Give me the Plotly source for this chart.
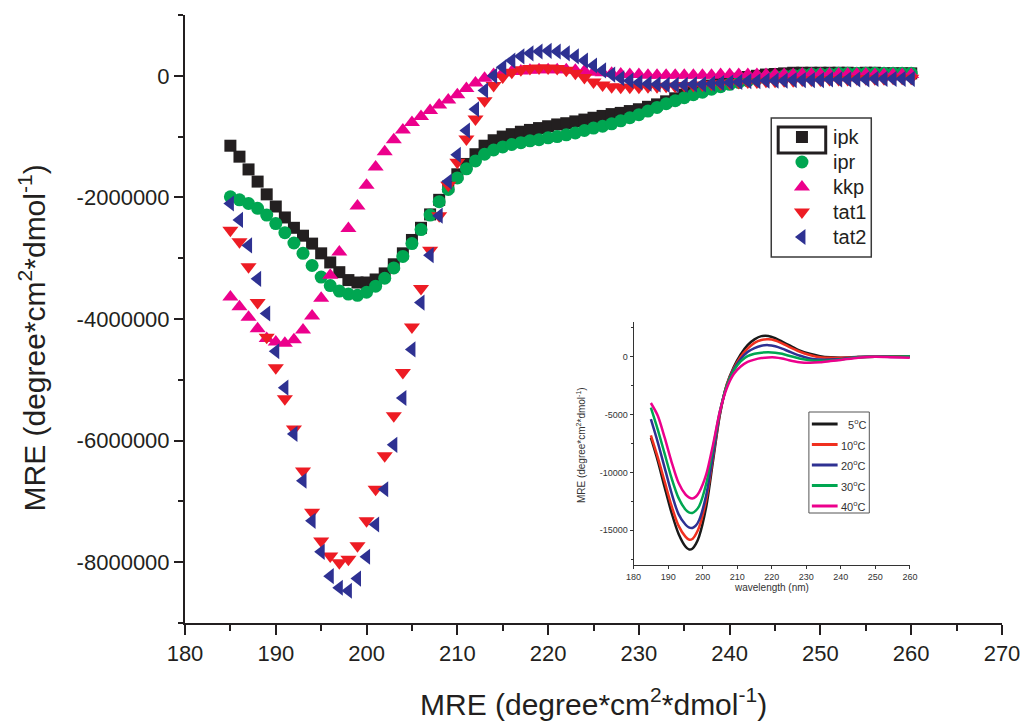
import plotly.graph_objects as go

# ---------------------------------------------------------------------------
# Main panel: MRE of five peptides, 185-260 nm (one reading per nm)
# ---------------------------------------------------------------------------
wavelength = list(range(185, 261))

ipk = [-1.15e6, -1.33e6, -1.54e6, -1.74e6, -1.95e6, -2.15e6, -2.33e6, -2.50e6, -2.63e6, -2.76e6,
       -2.92e6, -3.07e6, -3.23e6, -3.36e6, -3.40e6, -3.40e6, -3.35e6, -3.25e6, -3.10e6, -2.92e6,
       -2.70e6, -2.50e6, -2.28e6, -2.04e6, -1.82e6, -1.62e6, -1.45e6, -1.29e6, -1.15e6, -1.06e6,
       -1.00e6, -0.96e6, -0.92e6, -0.89e6, -0.86e6, -0.83e6, -0.80e6, -0.78e6, -0.75e6, -0.72e6,
       -0.69e6, -0.66e6, -0.63e6, -0.61e6, -0.58e6, -0.55e6, -0.51e6, -0.47e6, -0.42e6, -0.37e6,
       -0.31e6, -0.26e6, -0.21e6, -0.16e6, -0.12e6, -0.08e6, -0.05e6, -0.02e6, 0.00e6, 0.02e6,
       0.03e6, 0.04e6, 0.05e6, 0.05e6, 0.05e6, 0.05e6, 0.05e6, 0.05e6, 0.05e6, 0.04e6,
       0.05e6, 0.05e6, 0.04e6, 0.04e6, 0.04e6, 0.04e6]

ipr = [-1.99e6, -2.04e6, -2.10e6, -2.18e6, -2.29e6, -2.43e6, -2.58e6, -2.75e6, -2.92e6, -3.12e6,
       -3.31e6, -3.45e6, -3.54e6, -3.59e6, -3.61e6, -3.56e6, -3.46e6, -3.33e6, -3.16e6, -2.97e6,
       -2.76e6, -2.53e6, -2.29e6, -2.07e6, -1.87e6, -1.68e6, -1.53e6, -1.40e6, -1.29e6, -1.22e6,
       -1.17e6, -1.13e6, -1.10e6, -1.07e6, -1.05e6, -1.02e6, -1.00e6, -0.97e6, -0.94e6, -0.90e6,
       -0.86e6, -0.83e6, -0.79e6, -0.74e6, -0.69e6, -0.64e6, -0.58e6, -0.52e6, -0.46e6, -0.41e6,
       -0.36e6, -0.31e6, -0.27e6, -0.22e6, -0.18e6, -0.14e6, -0.11e6, -0.08e6, -0.05e6, -0.03e6,
       -0.01e6, 0.00e6, 0.01e6, 0.02e6, 0.03e6, 0.03e6, 0.03e6, 0.04e6, 0.04e6, 0.04e6,
       0.04e6, 0.04e6, 0.04e6, 0.04e6, 0.04e6, 0.04e6]

kkp = [-3.64e6, -3.80e6, -3.97e6, -4.16e6, -4.32e6, -4.38e6, -4.40e6, -4.34e6, -4.18e6, -3.95e6,
       -3.66e6, -3.28e6, -2.90e6, -2.51e6, -2.14e6, -1.80e6, -1.50e6, -1.25e6, -1.05e6, -0.89e6,
       -0.77e6, -0.67e6, -0.57e6, -0.48e6, -0.40e6, -0.31e6, -0.21e6, -0.12e6, -0.04e6, 0.02e6,
       0.05e6, 0.07e6, 0.08e6, 0.09e6, 0.10e6, 0.10e6, 0.10e6, 0.10e6, 0.09e6, 0.08e6,
       0.06e6, 0.05e6, 0.04e6, 0.03e6, 0.02e6, 0.02e6, 0.01e6, 0.01e6, 0.01e6, 0.01e6,
       0.01e6, 0.01e6, 0.01e6, 0.01e6, 0.02e6, 0.02e6, 0.02e6, 0.02e6, 0.02e6, 0.02e6,
       0.02e6, 0.02e6, 0.02e6, 0.03e6, 0.03e6, 0.03e6, 0.03e6, 0.03e6, 0.03e6, 0.03e6,
       0.03e6, 0.02e6, 0.02e6, 0.02e6, 0.02e6, 0.02e6]

tat1 = [-2.54e6, -2.73e6, -3.14e6, -3.73e6, -4.30e6, -4.80e6, -5.31e6, -5.81e6, -6.50e6, -7.18e6,
        -7.65e6, -7.90e6, -8.01e6, -7.95e6, -7.73e6, -7.32e6, -6.80e6, -6.25e6, -5.59e6, -4.88e6,
        -4.13e6, -3.50e6, -2.87e6, -2.30e6, -1.80e6, -1.42e6, -1.04e6, -0.71e6, -0.41e6, -0.16e6,
        -0.02e6, 0.06e6, 0.10e6, 0.12e6, 0.13e6, 0.13e6, 0.12e6, 0.09e6, 0.04e6, -0.03e6,
        -0.10e6, -0.15e6, -0.18e6, -0.19e6, -0.19e6, -0.19e6, -0.18e6, -0.18e6, -0.17e6, -0.17e6,
        -0.16e6, -0.16e6, -0.15e6, -0.14e6, -0.13e6, -0.12e6, -0.11e6, -0.10e6, -0.10e6, -0.09e6,
        -0.09e6, -0.08e6, -0.08e6, -0.07e6, -0.07e6, -0.07e6, -0.06e6, -0.06e6, -0.06e6, -0.05e6,
        -0.05e6, -0.05e6, -0.05e6, -0.04e6, -0.04e6, -0.04e6]

tat2 = [-2.10e6, -2.37e6, -2.79e6, -3.34e6, -3.91e6, -4.53e6, -5.13e6, -5.89e6, -6.66e6, -7.32e6,
        -7.83e6, -8.23e6, -8.42e6, -8.47e6, -8.27e6, -7.91e6, -7.38e6, -6.80e6, -6.07e6, -5.30e6,
        -4.50e6, -3.73e6, -2.95e6, -2.30e6, -1.74e6, -1.30e6, -0.90e6, -0.55e6, -0.24e6, 0.00e6,
        0.14e6, 0.25e6, 0.32e6, 0.37e6, 0.40e6, 0.41e6, 0.40e6, 0.37e6, 0.32e6, 0.25e6,
        0.17e6, 0.09e6, 0.02e6, -0.04e6, -0.08e6, -0.11e6, -0.13e6, -0.14e6, -0.15e6, -0.15e6,
        -0.15e6, -0.14e6, -0.14e6, -0.13e6, -0.12e6, -0.11e6, -0.10e6, -0.09e6, -0.09e6, -0.08e6,
        -0.08e6, -0.08e6, -0.07e6, -0.07e6, -0.07e6, -0.07e6, -0.06e6, -0.06e6, -0.06e6, -0.06e6,
        -0.06e6, -0.05e6, -0.05e6, -0.05e6, -0.05e6, -0.05e6]

series_names = ["ipk", "ipr", "kkp", "tat1", "tat2"]

y_tick_values = [0, -2000000, -4000000, -6000000, -8000000]
y_tick_labels = ["0", "-2000000", "-4000000", "-6000000", "-8000000"]

# ---------------------------------------------------------------------------
# Inset: temperature series, 185-260 nm
# ---------------------------------------------------------------------------
inset_wavelength = [185, 187, 189, 191, 193, 195, 196, 197, 198, 199, 201, 203, 205, 207, 209, 211,
                    213, 215, 217, 219, 221, 223, 225, 228, 231, 234, 237, 240, 245, 250, 255, 260]

t5 = [-7000, -9000, -11300, -13500, -15300, -16400, -16650, -16600, -16200, -15500, -13000, -9000,
      -5000, -2400, -900, 200, 1000, 1500, 1780, 1800, 1600, 1300, 1000, 550, 250, 50, -50, -80,
      -30, 0, 20, 30]
t10 = [-6800, -8700, -10800, -12900, -14600, -15550, -15800, -15750, -15350, -14700, -12400, -8700,
       -4900, -2400, -1000, 0, 700, 1200, 1450, 1500, 1400, 1150, 850, 450, 150, -50, -100, -100,
       -30, 0, 0, 30]
t20 = [-5400, -7400, -9600, -11800, -13600, -14500, -14750, -14800, -14600, -14100, -12000, -8500,
       -4800, -2500, -1100, -200, 400, 750, 950, 1000, 900, 700, 450, 100, -150, -250, -250, -200,
       -30, 0, -20, 0]
t30 = [-4400, -6300, -8400, -10500, -12200, -13200, -13450, -13500, -13300, -12900, -11000, -7900,
       -4700, -2500, -1200, -400, 50, 250, 350, 380, 350, 250, 80, -150, -300, -350, -320, -250,
       -50, 0, 0, 50]
t40 = [-4000, -5100, -7000, -9100, -10900, -11900, -12150, -12250, -12100, -11700, -10200, -7600,
       -4700, -2700, -1500, -850, -450, -250, -120, -60, -60, -150, -300, -470, -520, -480, -380,
       -280, -80, 0, -50, -100]

inset_labels = ["5<sup>o</sup>C", "10<sup>o</sup>C", "20<sup>o</sup>C", "30<sup>o</sup>C", "40<sup>o</sup>C"]
inset_x_ticks = [180, 190, 200, 210, 220, 230, 240, 250, 260]
inset_y_ticks = [-15000, -10000, -5000, 0]
inset_y_labels = ["-15000", "-10000", "-5000", "0"]

# ---------------------------------------------------------------------------
# Styling
# ---------------------------------------------------------------------------
W, H = 1032, 723
PL, PR, PT, PB = 185, 1010, 15, 623  # plot-area edges in pixels
FONT = "Liberation Sans, Arial, Helvetica, sans-serif"
INK = "#231f20"


def fx(px):
    return (px - PL) / (PR - PL)


def fy(py):
    return (PB - py) / (PB - PT)


marker_styles = {
    "ipk": dict(symbol="square", color="#231f20", size=12),
    "ipr": dict(symbol="circle", color="#00a651", size=13),
    "kkp": dict(symbol="triangle-up", color="#ec008c", size=14),
    "tat1": dict(symbol="triangle-down", color="#ed1c24", size=14),
    "tat2": dict(symbol="triangle-left", color="#2e3192", size=14),
}
inset_colors = ["#1a1a1a", "#f0301f", "#2e3192", "#00a651", "#ec008c"]

fig = go.Figure()

for name, values in zip(series_names, [ipk, ipr, kkp, tat1, tat2]):
    st = marker_styles[name]
    fig.add_trace(go.Scatter(
        x=wavelength, y=values, mode="markers", name=name, showlegend=False,
        marker=dict(symbol=st["symbol"], color=st["color"], size=st["size"],
                    opacity=1, line=dict(width=0)),
        xaxis="x", yaxis="y",
    ))

for label, values, color in zip(inset_labels, [t5, t10, t20, t30, t40], inset_colors):
    fig.add_trace(go.Scatter(
        x=inset_wavelength, y=values, mode="lines", name=label, showlegend=False,
        line=dict(color=color, width=2.5, shape="spline", smoothing=0.8),
        xaxis="x2", yaxis="y2",
    ))

# Main legend symbols (drawn on an overlay axis in plot-area fractions)
legend_rows_px = [137, 162, 187, 212, 237]
legend_marker_px = 808
fig.add_trace(go.Scatter(
    x=[fx(legend_marker_px)] * len(series_names),
    y=[fy(p) for p in legend_rows_px],
    mode="markers", showlegend=False, hoverinfo="skip",
    marker=dict(
        symbol=[marker_styles[n]["symbol"] for n in series_names],
        color=[marker_styles[n]["color"] for n in series_names],
        size=[marker_styles[n]["size"] for n in series_names],
        opacity=1,
        line=dict(width=0),
    ),
    xaxis="x3", yaxis="y3",
))

shapes = [
    # main legend frame
    dict(type="rect", xref="paper", yref="paper", x0=fx(777), x1=fx(878), y0=fy(257), y1=fy(118),
         line=dict(color="#3a3a3a", width=1.5), fillcolor="rgba(0,0,0,0)", layer="below"),
    # highlight frame around the first legend symbol
    dict(type="rect", xref="paper", yref="paper", x0=fx(784), x1=fx(832), y0=fy(153), y1=fy(127),
         line=dict(color=INK, width=3), fillcolor="rgba(0,0,0,0)"),
    # inset legend frame
    dict(type="rect", xref="paper", yref="paper", x0=fx(815), x1=fx(876), y0=fy(513), y1=fy(412),
         line=dict(color="#555", width=1), fillcolor="white"),
]

inset_rows_px = [424, 444.5, 465, 485.5, 506]
for py, color in zip(inset_rows_px, inset_colors):
    shapes.append(dict(type="line", xref="paper", yref="paper", x0=fx(818), x1=fx(844),
                       y0=fy(py), y1=fy(py), line=dict(color=color, width=3)))

annotations = []
for name, py in zip(series_names, legend_rows_px):
    annotations.append(dict(text=name, xref="paper", yref="paper", x=fx(837), y=fy(py),
                            xanchor="left", yanchor="middle", showarrow=False,
                            font=dict(family=FONT, size=20, color=INK)))
for label, py in zip(inset_labels, inset_rows_px):
    annotations.append(dict(text=label, xref="paper", yref="paper", x=fx(875), y=fy(py),
                            xanchor="right", yanchor="middle", showarrow=False,
                            font=dict(family=FONT, size=11, color="#333")))

title_text = "MRE (degree*cm<sup>2</sup>*dmol<sup>-1</sup>)"
annotations += [
    dict(text=title_text, xref="paper", yref="paper", x=fx(31), y=fy(338), textangle=-90,
         xanchor="center", yanchor="middle", showarrow=False,
         font=dict(family=FONT, size=30, color=INK)),
    dict(text=title_text, xref="paper", yref="paper", x=fx(597), y=fy(702),
         xanchor="center", yanchor="middle", showarrow=False,
         font=dict(family=FONT, size=30, color=INK)),
    dict(text="wavelength (nm)", xref="paper", yref="paper", x=fx(777), y=fy(587),
         xanchor="center", yanchor="middle", showarrow=False,
         font=dict(family=FONT, size=10, color="#333")),
    dict(text=title_text, xref="paper", yref="paper", x=fx(585), y=fy(445), textangle=-90,
         xanchor="center", yanchor="middle", showarrow=False,
         font=dict(family=FONT, size=10, color="#333")),
]

fig.update_layout(
    width=W, height=H,
    margin=dict(l=PL, r=W - PR, t=PT, b=H - PB),
    paper_bgcolor="white", plot_bgcolor="rgba(0,0,0,0)",
    font=dict(family=FONT, color=INK),
    showlegend=False,
    xaxis=dict(
        domain=[0, 1], range=[180, 270], tickmode="linear", tick0=180, dtick=10,
        ticks="outside", ticklen=10, tickwidth=2, tickcolor=INK,
        showline=True, linewidth=2, linecolor=INK, showgrid=False, zeroline=False,
        tickfont=dict(family=FONT, size=22, color=INK),
        minor=dict(tick0=180, dtick=5, ticks="outside", ticklen=6, tickwidth=1.5, tickcolor=INK,
                   showgrid=False),
        anchor="y",
    ),
    yaxis=dict(
        domain=[0, 1], range=[-9e6, 1e6], tickmode="array",
        tickvals=y_tick_values, ticktext=y_tick_labels,
        ticks="outside", ticklen=9, tickwidth=2, tickcolor=INK,
        showline=True, linewidth=2, linecolor=INK, showgrid=False, zeroline=False,
        tickfont=dict(family=FONT, size=22, color=INK),
        minor=dict(tick0=0, dtick=1e6, ticks="outside", ticklen=5, tickwidth=1.5, tickcolor=INK,
                   showgrid=False),
        anchor="x",
    ),
    xaxis2=dict(
        domain=[fx(638), fx(917)], range=[180, 260], tickmode="array", tickvals=inset_x_ticks,
        ticktext=[str(v) for v in inset_x_ticks],
        ticks="outside", ticklen=3, tickwidth=1, tickcolor="#333",
        showline=True, linewidth=1, linecolor="#333", showgrid=False, zeroline=False,
        tickfont=dict(family=FONT, size=9, color="#333"), anchor="y2",
    ),
    yaxis2=dict(
        domain=[fy(565), fy(322)], range=[-18000, 3000], tickmode="array",
        tickvals=inset_y_ticks, ticktext=inset_y_labels,
        ticks="outside", ticklen=3, tickwidth=1, tickcolor="#333",
        showline=True, linewidth=1, linecolor="#333", showgrid=False, zeroline=False,
        tickfont=dict(family=FONT, size=9, color="#333"), anchor="x2",
        minor=dict(tick0=0, dtick=2500, ticks="outside", ticklen=2, tickwidth=1, tickcolor="#333"),
    ),
    xaxis3=dict(domain=[0, 1], range=[0, 1], visible=False, overlaying="x", anchor="y3"),
    yaxis3=dict(domain=[0, 1], range=[0, 1], visible=False, overlaying="y", anchor="x3"),
    shapes=shapes,
    annotations=annotations,
)

fig.write_html("out.html")
